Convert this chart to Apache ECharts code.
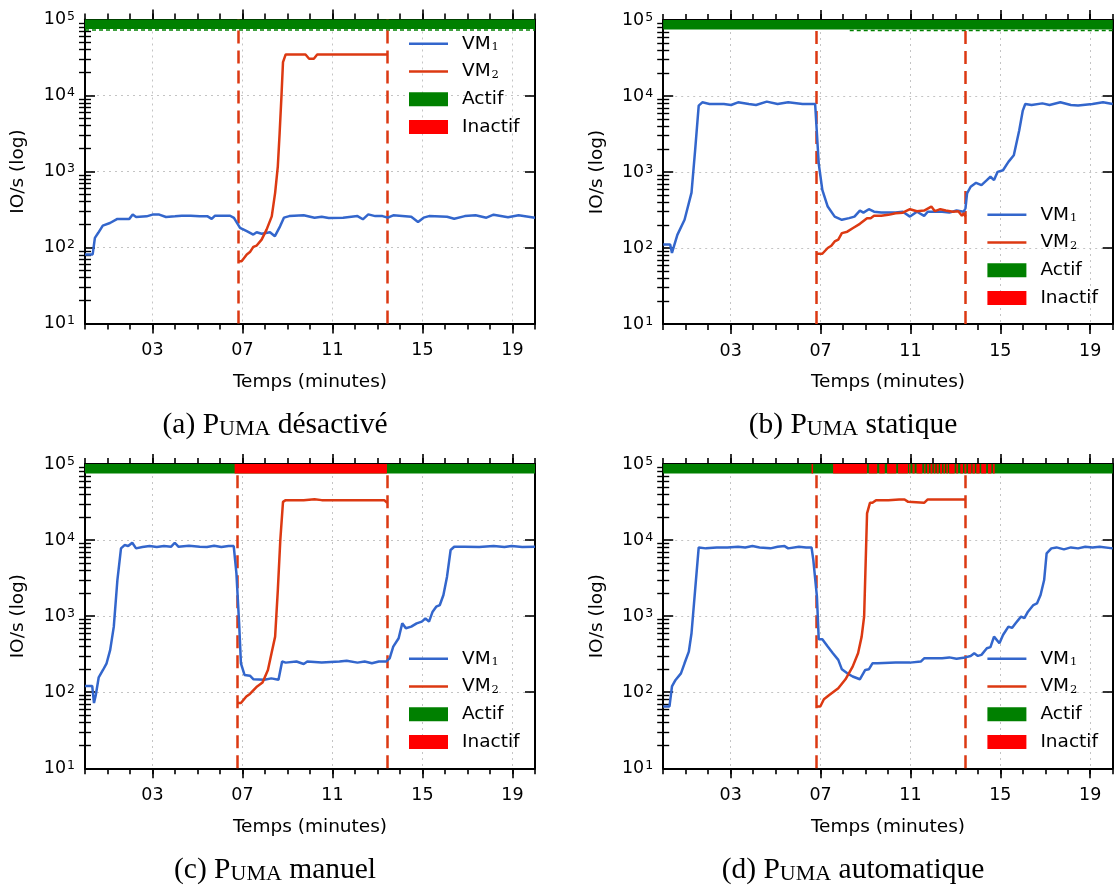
<!DOCTYPE html>
<html><head><meta charset="utf-8">
<script src="https://cdn.jsdelivr.net/npm/echarts@6/dist/echarts.min.js"></script>
<style>html,body{margin:0;padding:0;background:#fff}#c{width:1116px;height:887px}</style>
</head><body><div id="c"></div>
<script>
// ---------------- DATA ----------------
const xMajor = [3, 7, 11, 15, 19];
const xTickLabels = ['03', '07', '11', '15', '19'];
const yMajor = [10, 100, 1000, 10000, 100000];
const yTickExps = ['1', '2', '3', '4', '5'];
const yMinor = [20,30,40,50,60,70,80,90,200,300,400,500,600,700,800,900,2000,3000,4000,5000,6000,7000,8000,9000,20000,30000,40000,50000,60000,70000,80000,90000];
const captions = ['(a) Puma désactivé', '(b) Puma statique', '(c) Puma manuel', '(d) Puma automatique'];
const statusBand = [75000, 100000];
const greenDashLevel = 73000;

// (a) PUMA désactivé
const vm1A = [[0.0,81],[0.34,81],[0.44,134],[0.59,156],[0.79,194],[1.11,210],[1.44,238],[1.97,238],[2.12,271],[2.27,252],[2.74,257],[3.0,271],[3.3,271],[3.6,252],[4.0,257],[4.3,262],[4.7,262],[5.1,257],[5.45,257],[5.63,238],[5.78,262],[6.45,262],[6.62,245],[6.89,181],[7.19,164],[7.48,148],[7.63,159],[7.85,152],[8.22,159],[8.44,141],[8.67,190],[8.84,247],[9.08,259],[9.72,265],[10.2,247],[10.52,254],[10.83,244],[11.47,247],[12.11,259],[12.35,235],[12.59,273],[12.9,259],[13.22,259],[13.46,247],[13.7,265],[14.5,254],[14.8,217],[15.05,247],[15.29,259],[16.09,254],[16.41,239],[16.88,259],[17.36,265],[17.84,247],[18.16,270],[18.8,250],[19.27,265],[20.0,247]];
const vm2A = [[6.81,66],[6.96,66],[7.19,81],[7.33,87],[7.48,102],[7.63,106],[7.85,127],[8.07,172],[8.30,257],[8.45,524],[8.57,1170],[8.65,3190],[8.73,9600],[8.80,27500],[8.92,34700],[9.8,34700],[9.96,30500],[10.17,30500],[10.32,34700],[13.44,34700]];
const activeA = [[0, 20]];
const inactiveA = [];
const greenDashA = [[0, 20]];

// (b) PUMA statique
const vm1B = [[0.0,111],[0.31,111],[0.39,86],[0.63,149],[0.95,235],[1.26,535],[1.42,1930],[1.58,7480],[1.74,8260],[2.06,7860],[2.7,7860],[3.02,7620],[3.33,8260],[3.81,7860],[4.13,7620],[4.61,8430],[5.09,7860],[5.56,8260],[6.2,7860],[6.6,7860],[6.76,7860],[6.84,3190],[6.92,1290],[7.08,580],[7.32,351],[7.63,259],[7.95,235],[8.27,247],[8.51,259],[8.75,311],[8.91,292],[9.15,324],[9.38,300],[9.7,293],[10.34,293],[10.66,300],[10.98,259],[11.29,300],[11.61,265],[11.77,300],[12.41,300],[12.73,292],[13.05,311],[13.37,300],[13.45,334],[13.52,524],[13.68,640],[13.92,721],[14.16,673],[14.4,782],[14.56,865],[14.72,782],[14.88,1005],[15.12,1055],[15.36,1360],[15.6,1660],[15.68,1740],[15.84,3520],[16.0,6430],[16.11,7860],[16.39,7620],[16.87,8000],[17.19,7620],[17.67,8260],[18.14,7620],[18.46,7480],[19.1,7860],[19.57,8260],[20.0,7860]];
const vm2B = [[6.8,84],[7.08,84],[7.32,100],[7.48,107],[7.63,122],[7.79,129],[7.95,157],[8.19,164],[8.43,182],[8.75,208],[9.07,247],[9.23,247],[9.38,265],[9.7,265],[10.02,273],[10.34,287],[10.66,292],[10.98,324],[11.29,305],[11.61,311],[11.93,351],[12.09,305],[12.33,324],[12.57,311],[12.89,300],[13.13,305],[13.29,265],[13.37,287],[13.45,259]];
const activeB = [[0, 20]];
const inactiveB = [];
const greenDashB = [[8.3, 20]];

// (c) PUMA manuel
const vm1C = [[0.0,121],[0.32,121],[0.4,72],[0.48,92],[0.61,157],[0.8,196],[0.96,240],[1.12,360],[1.28,728],[1.44,2985],[1.6,7780],[1.76,8600],[1.92,8340],[2.1,9220],[2.27,7780],[2.55,8100],[2.87,8340],[3.19,8100],[3.51,8340],[3.83,8200],[3.99,9220],[4.15,8200],[4.62,8400],[5.1,8200],[5.42,8100],[5.74,8400],[6.06,8100],[6.38,8340],[6.61,8340],[6.73,3650],[6.85,805],[6.93,240],[7.09,169],[7.33,165],[7.49,148],[7.97,146],[8.28,152],[8.6,146],[8.76,253],[8.92,245],[9.4,253],[9.72,235],[9.88,253],[10.52,245],[11.31,253],[11.63,260],[12.11,245],[12.43,253],[12.75,240],[13.06,253],[13.38,253],[13.54,279],[13.7,398],[13.94,512],[14.1,805],[14.26,692],[14.5,728],[14.74,805],[14.97,847],[15.13,937],[15.29,847],[15.45,1145],[15.61,1333],[15.77,1400],[15.93,1897],[16.09,3300],[16.25,7400],[16.41,8180],[16.88,8180],[17.52,8100],[18.16,8340],[18.64,8100],[18.96,8340],[19.43,8100],[20.0,8180]];
const vm2C = [[6.77,72],[6.93,72],[7.17,88],[7.33,95],[7.65,119],[7.89,134],[8.13,196],[8.29,325],[8.45,538],[8.57,2200],[8.68,10000],[8.8,31800],[8.92,33500],[9.72,33500],[10.2,34500],[10.52,33500],[12.11,33500],[13.3,33500],[13.43,30900]];
const activeC = [[0, 20]];
const inactiveC = [[6.65, 13.42]];
const greenDashC = [];

// (d) PUMA automatique
const vm1D = [[0.0,65],[0.28,65],[0.39,119],[0.55,145],[0.79,177],[0.95,240],[1.14,342],[1.26,596],[1.42,2200],[1.58,8010],[1.9,7780],[2.38,8010],[2.86,8010],[3.33,8180],[3.65,8010],[3.97,8340],[4.29,8010],[4.77,7780],[5.09,8180],[5.4,8340],[5.56,7780],[6.04,8180],[6.36,8010],[6.6,8010],[6.68,5460],[6.84,1800],[6.92,497],[7.08,497],[7.32,398],[7.55,325],[7.79,266],[7.95,200],[8.19,177],[8.43,161],[8.75,148],[8.83,143],[8.99,196],[9.15,200],[9.31,240],[9.39,235],[9.54,240],[10.34,245],[10.98,245],[11.46,253],[11.61,279],[12.09,279],[12.41,279],[12.73,287],[13.05,275],[13.44,287],[13.68,300],[13.84,325],[14.0,300],[14.16,310],[14.4,378],[14.56,392],[14.72,538],[14.96,440],[15.12,565],[15.36,728],[15.52,700],[15.68,805],[15.92,985],[16.07,940],[16.23,1145],[16.47,1400],[16.63,1470],[16.79,1897],[16.95,2985],[17.06,6680],[17.27,7780],[17.5,8010],[17.83,7550],[18.14,8010],[18.46,7780],[18.78,8180],[19.1,8010],[19.42,8180],[20.0,7780]];
const vm2D = [[6.8,65],[6.99,65],[7.15,81],[7.39,92],[7.79,113],[8.11,148],[8.43,217],[8.67,325],[8.83,538],[8.94,985],[9.07,22400],[9.2,30900],[9.31,30900],[9.47,33500],[9.62,33500],[10.02,33500],[10.5,34200],[10.74,34200],[10.9,31800],[10.98,30900],[11.61,30900],[11.77,34200],[12.73,34200],[13.45,34200]];
const activeD = [[0, 20]];
const inactiveD = [[6.6,6.67],[7.56,9.07],[9.15,9.52],[9.61,9.86],[9.96,10.37],[10.45,10.89],[10.94,11.0],[11.09,11.19],[11.27,11.53],[11.61,11.67],[11.74,11.83],[11.89,11.98],[12.04,12.11],[12.17,12.26],[12.32,12.41],[12.47,12.54],[12.6,12.67],[12.72,12.97],[13.04,13.12],[13.22,13.34],[13.4,13.49],[13.56,13.71],[13.76,13.87],[13.93,14.08],[14.15,14.37],[14.45,14.6],[14.67,14.75]];
const greenDashD = [];

// switch-over times (dashed verticals)
const switchA = [6.79, 13.44];
const switchB = [6.79, 13.44];
const switchC = [6.78, 13.43];
const switchD = [6.79, 13.44];

// ---------------- STYLE / LAYOUT ----------------
const SANS = 'DejaVu Sans';
const SERIF = 'Liberation Serif';
const C1 = '#3366cc', C2 = '#dc3912', GREEN = '#008000', RED = '#ff0000';
const grids = [
  {left: 85, top: 19.5, width: 450, height: 304},
  {left: 663.2, top: 20, width: 449.5, height: 304},
  {left: 85, top: 464, width: 450, height: 304.3},
  {left: 663.2, top: 464, width: 449.5, height: 304.3}
];
const legendPos = [{left: 409, top: 34.3}, {left: 987.4, top: 205.3}, {left: 409, top: 649.3}, {left: 987.4, top: 649.3}];
const captionPos = [{x: 275, y: 410.5}, {x: 853, y: 410.5}, {x: 275, y: 855}, {x: 853, y: 855}];

const panels = [
  {vm1: vm1A, vm2: vm2A, act: activeA, inact: inactiveA, dash: greenDashA, sw: switchA},
  {vm1: vm1B, vm2: vm2B, act: activeB, inact: inactiveB, dash: greenDashB, sw: switchB},
  {vm1: vm1C, vm2: vm2C, act: activeC, inact: inactiveC, dash: greenDashC, sw: switchC},
  {vm1: vm1D, vm2: vm2D, act: activeD, inact: inactiveD, dash: greenDashD, sw: switchD}
];

const BLACK = '#000';
const xAxes = [], yAxes = [], series = [], legends = [], titles = [];

function yLabel(v) {
  let idx = 0, best = 1e9;
  yMajor.forEach((m, i) => { const d = Math.abs(Math.log10(v) - Math.log10(m)); if (d < best) { best = d; idx = i; } });
  return '{b|10}{e|' + yTickExps[idx] + '}';
}
function xLabel(v) {
  let idx = 0, best = 1e9;
  xMajor.forEach((m, i) => { const d = Math.abs(v - m); if (d < best) { best = d; idx = i; } });
  return xTickLabels[idx];
}

grids.forEach((g, gi) => {
  const xb = {type: 'value', gridIndex: gi, min: 0, max: 20};
  xAxes.push(Object.assign({}, xb, {
    position: 'bottom',
    axisLine: {show: true, onZero: false, lineStyle: {color: BLACK, width: 2}},
    axisTick: {show: true, inside: false, length: 10, customValues: xMajor, lineStyle: {color: BLACK, width: 1.6}},
    axisLabel: {show: true, customValues: xMajor, formatter: xLabel, margin: 18, fontFamily: SANS, fontSize: 17.5, color: BLACK},
    splitLine: {show: true, lineStyle: {color: '#c4c4c4', type: [2, 4], width: 1}},
    name: 'Temps (minutes)', nameLocation: 'middle', nameGap: 49,
    nameTextStyle: {fontFamily: SANS, fontSize: 18.5, color: BLACK}
  }));
  xAxes.push(Object.assign({}, xb, {
    position: 'bottom', interval: 1,
    axisLine: {show: false, onZero: false},
    axisTick: {show: true, inside: false, length: 6, lineStyle: {color: BLACK, width: 1.6}},
    axisLabel: {show: false}, splitLine: {show: false}
  }));
  xAxes.push(Object.assign({}, xb, {
    position: 'top',
    axisLine: {show: true, onZero: false, lineStyle: {color: BLACK, width: 2}},
    axisTick: {show: true, inside: false, length: 10, customValues: xMajor, lineStyle: {color: BLACK, width: 1.6}},
    axisLabel: {show: false}, splitLine: {show: false}
  }));
  xAxes.push(Object.assign({}, xb, {
    position: 'top', interval: 1,
    axisLine: {show: false, onZero: false},
    axisTick: {show: true, inside: false, length: 6, lineStyle: {color: BLACK, width: 1.6}},
    axisLabel: {show: false}, splitLine: {show: false}
  }));

  const yb = {type: 'log', logBase: 10, gridIndex: gi, min: 10, max: 100000};
  yAxes.push(Object.assign({}, yb, {
    position: 'left',
    axisLine: {show: true, onZero: false, lineStyle: {color: BLACK, width: 2}},
    axisTick: {show: true, inside: true, length: 10, customValues: yMajor, lineStyle: {color: BLACK, width: 1.6}},
    axisLabel: {show: true, customValues: yMajor, formatter: yLabel, margin: 10, color: BLACK,
      rich: {b: {fontFamily: SANS, fontSize: 17.5, color: BLACK}, e: {fontFamily: SANS, fontSize: 12.5, color: BLACK, verticalAlign: 'top', padding: [0, 0, 0, 1]}}},
    splitLine: {show: true, lineStyle: {color: '#c4c4c4', type: [2, 4], width: 1}},
    name: 'IO/s (log)', nameLocation: 'middle', nameGap: 57,
    nameTextStyle: {fontFamily: SANS, fontSize: 18.5, color: BLACK}
  }));
  yAxes.push(Object.assign({}, yb, {
    position: 'left',
    axisLine: {show: false},
    axisTick: {show: true, inside: true, length: 6, customValues: yMinor, lineStyle: {color: BLACK, width: 1.4}},
    axisLabel: {show: false}, splitLine: {show: false}
  }));
  yAxes.push(Object.assign({}, yb, {
    position: 'right',
    axisLine: {show: true, onZero: false, lineStyle: {color: BLACK, width: 2}},
    axisTick: {show: true, inside: true, length: 10, customValues: yMajor, lineStyle: {color: BLACK, width: 1.6}},
    axisLabel: {show: false}, splitLine: {show: false}
  }));
  yAxes.push(Object.assign({}, yb, {
    position: 'right',
    axisLine: {show: false},
    axisTick: {show: true, inside: true, length: 6, customValues: yMinor, lineStyle: {color: BLACK, width: 1.4}},
    axisLabel: {show: false}, splitLine: {show: false}
  }));

  const p = panels[gi];
  const xi = gi * 4, yi = gi * 4;

  function statusSeries(name, intervals, color) {
    return {
      type: 'custom', name: name, xAxisIndex: xi, yAxisIndex: yi, z: 10, silent: true,
      itemStyle: {color: color},
      data: intervals.map(iv => [iv[0], iv[1], statusBand[0], statusBand[1]]),
      encode: {x: [0, 1], y: [2, 3]},
      renderItem: function (params, api) {
        const a = api.coord([api.value(0), api.value(3)]);
        const b = api.coord([api.value(1), api.value(2)]);
        return {type: 'rect', shape: {x: a[0], y: a[1], width: b[0] - a[0], height: b[1] - a[1]}, style: {fill: color}};
      }
    };
  }

  p.dash.forEach(seg => {
    series.push({
      type: 'line', xAxisIndex: xi, yAxisIndex: yi, z: 4, silent: true, symbol: 'none', showSymbol: false,
      data: [[seg[0], greenDashLevel], [seg[1], greenDashLevel]],
      lineStyle: {color: GREEN, width: 1.5, type: [4, 3]}, color: GREEN
    });
  });

  series.push({
    type: 'line', name: 'VM1', xAxisIndex: xi, yAxisIndex: yi, z: 6, symbol: 'none', showSymbol: false,
    data: p.vm1, color: C1, lineStyle: {color: C1, width: 2.5}, silent: true
  });
  series.push({
    type: 'line', name: 'VM2', xAxisIndex: xi, yAxisIndex: yi, z: 6, symbol: 'none', showSymbol: false,
    data: p.vm2, color: C2, lineStyle: {color: C2, width: 2.5}, silent: true,
    markLine: {
      silent: true, symbol: ['none', 'none'], label: {show: false}, animation: false,
      lineStyle: {color: C2, width: 2.5, type: [13, 7]},
      data: p.sw.map(t => ({xAxis: t}))
    }
  });
  series.push(statusSeries('Actif', p.act, GREEN));
  if (p.inact.length) series.push(statusSeries('Inactif', p.inact, RED));

  const lineIcon = 'path://M0,0H40V2.6H0Z';
  legends.push({
    orient: 'vertical', left: legendPos[gi].left, top: legendPos[gi].top,
    itemWidth: 39, itemHeight: 14, itemGap: 8.7, selectedMode: false, padding: 0,
    data: [{name: 'VM1', icon: lineIcon}, {name: 'VM2', icon: lineIcon}, {name: 'Actif', icon: 'rect'}, {name: 'Inactif', icon: 'rect'}],
    formatter: function (name) {
      if (name === 'VM1') return '{n|VM}{s|1}';
      if (name === 'VM2') return '{n|VM}{s|2}';
      return '{n|' + name + '}';
    },
    textStyle: {
      padding: [0, 0, 0, 9],
      rich: {
        n: {fontFamily: SANS, fontSize: 18.5, color: BLACK},
        s: {fontFamily: 'DejaVu Serif', fontSize: 11.5, color: BLACK, verticalAlign: 'bottom', padding: [0, 0, 0, 1]}
      }
    }
  });

  const cap = captions[gi];
  const m = cap.match(/^(\(.\) )P(uma)(.*)$/);
  titles.push({
    text: m[1] + '{p|P}{sc|' + m[2].toUpperCase() + '}' + '{t|' + m[3] + '}',
    left: captionPos[gi].x, top: captionPos[gi].y, textAlign: 'center', padding: 0,
    textStyle: {
      fontFamily: SERIF, fontSize: 29.5, fontWeight: 'normal', color: BLACK,
      rich: {
        p: {fontFamily: SERIF, fontSize: 29.5, color: BLACK},
        sc: {fontFamily: SERIF, fontSize: 22, color: BLACK, verticalAlign: 'bottom'},
        t: {fontFamily: SERIF, fontSize: 29.5, color: BLACK}
      }
    }
  });
});

const chart = echarts.init(document.getElementById('c'), null, {renderer: 'canvas'});
chart.setOption({
  animation: false,
  backgroundColor: '#fff',
  title: titles,
  legend: legends,
  grid: grids.map(g => Object.assign({show: false, containLabel: false, outerBoundsMode: 'none'}, g)),
  xAxis: xAxes,
  yAxis: yAxes,
  series: series
});
</script></body></html>
